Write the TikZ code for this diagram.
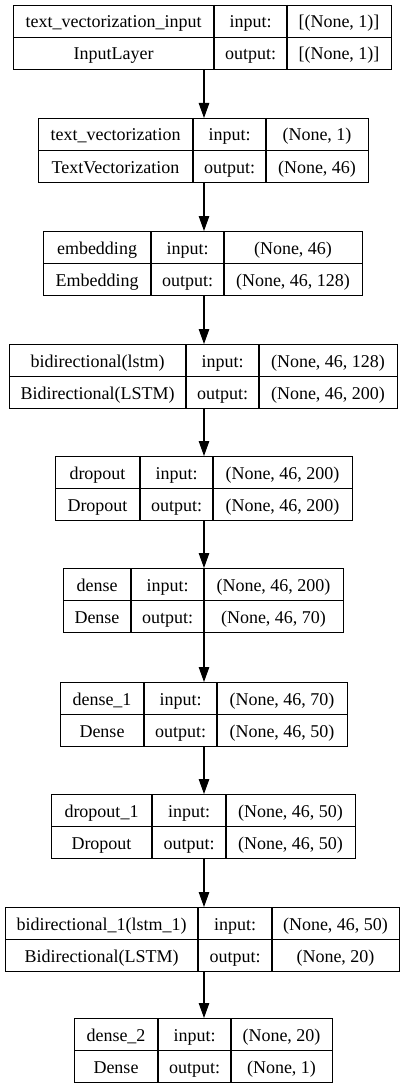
\documentclass[tikz,border=0pt]{standalone}
\usepackage{fontspec}
\setmainfont{LiberationSerif-Regular.ttf}
\usetikzlibrary{arrows.meta}

\tikzset{
	block/.style={draw, line width=1.1pt, inner sep=0pt, minimum height=64pt, anchor=north west},
	celltext/.style={font=\rmfamily\fontsize{18}{20}\selectfont, inner sep=0pt, anchor=base},
	flow/.style={line width=1.1pt, -{Triangle[length=15pt, width=10.5pt]}}
}

\begin{document}
\begin{tikzpicture}[x=1pt, y=-1pt]
		\useasboundingbox (0,0) rectangle (407,1089);
		\coordinate (axis) at (204,0);
		% name / top / left / divider / divider / right / layer / class / input / output
		\foreach \nm/\ty/\xa/\xb/\xc/\xd/\lname/\lclass/\ishape/\oshape in {
			L1/5/13/214/287/391/text\_vectorization\_input/InputLayer/{[(None, 1)]}/{[(None, 1)]},
			L2/118/38/193/266/368/text\_vectorization/TextVectorization/{(None, 1)}/{(None, 46)},
			L3/231/43/151/224/362/embedding/Embedding/{(None, 46)}/{(None, 46, 128)},
			L4/344/9/186/259/397/bidirectional(lstm)/Bidirectional(LSTM)/{(None, 46, 128)}/{(None, 46, 200)},
			L5/456/55/140/213/352/dropout/Dropout/{(None, 46, 200)}/{(None, 46, 200)},
			L6/568/63/131/204/343/dense/Dense/{(None, 46, 200)}/{(None, 46, 70)},
			L7/682/60/144/217/347/dense\_1/Dense/{(None, 46, 70)}/{(None, 46, 50)},
			L8/794/51/152/226/355/dropout\_1/Dropout/{(None, 46, 50)}/{(None, 46, 50)},
			L9/907/5/198/272/399/bidirectional\_1(lstm\_1)/Bidirectional(LSTM)/{(None, 46, 50)}/{(None, 20)},
			L10/1018/74/158/231/332/dense\_2/Dense/{(None, 20)}/{(None, 1)}}{
			\node[block, minimum width={(\xd-\xa)*1pt}] (\nm) at (\xa,\ty) {};
			\draw[line width=1.1pt] (\nm.west) -- (\nm.east);
			\draw[line width=1.1pt] (\xb,\ty) -- ++(0,64);
			\draw[line width=1.1pt] (\xc,\ty) -- ++(0,64);
			\node[celltext] (\nm-name) at ({(\xa+\xb)/2},\ty+23) {\lname};
			\node[celltext] (\nm-class) at ({(\xa+\xb)/2},\ty+55) {\lclass};
			\node[celltext] (\nm-in) at ({(\xb+\xc)/2},\ty+23) {input:};
			\node[celltext] (\nm-out) at ({(\xb+\xc)/2},\ty+55) {output:};
			\node[celltext] (\nm-ishape) at ({(\xc+\xd)/2},\ty+23) {\ishape};
			\node[celltext] (\nm-oshape) at ({(\xc+\xd)/2},\ty+55) {\oshape};
		}
		\foreach \a/\b in {L1/L2, L2/L3, L3/L4, L4/L5, L5/L6, L6/L7, L7/L8, L8/L9, L9/L10}
			\draw[flow] (\a.south -| axis) -- (\b.north -| axis);
	\end{tikzpicture}
\end{document}
